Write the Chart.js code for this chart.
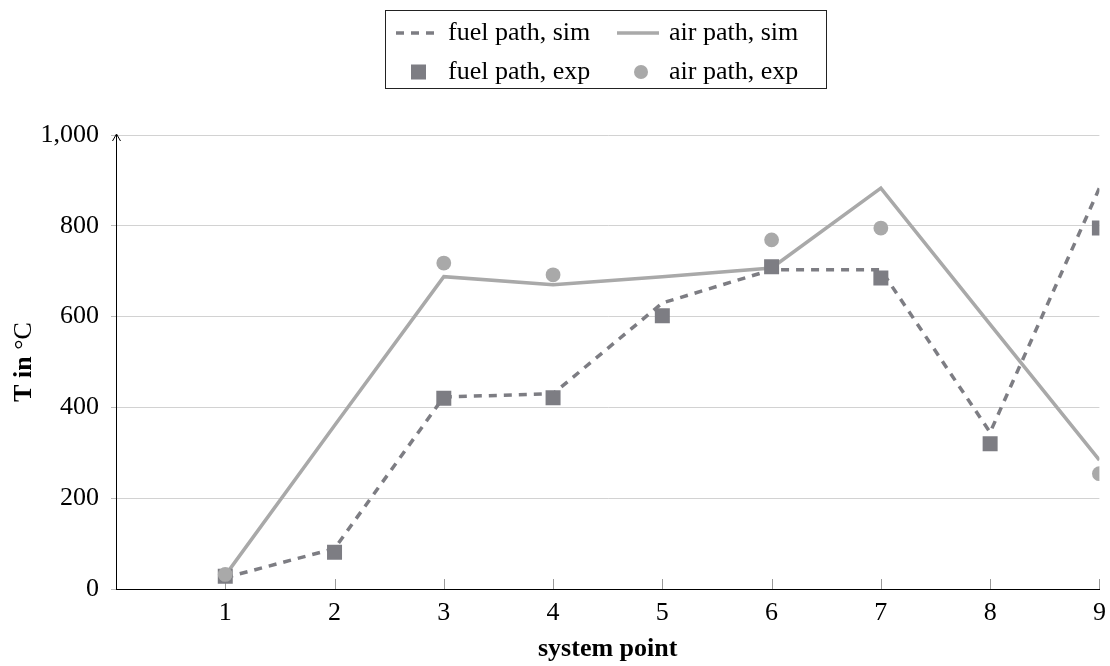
<!DOCTYPE html>
<html>
<head>
<meta charset="utf-8">
<script src="https://cdn.jsdelivr.net/npm/chart.js@4.4.0/dist/chart.umd.min.js"></script>
<style>
  html, body { margin: 0; padding: 0; background: #fff; }
  #wrap { width: 1110px; height: 666px; }
</style>
</head>
<body>
<div id="wrap"><canvas id="chart" width="1110" height="666"></canvas></div>
<script>
const systemPoints = [1, 2, 3, 4, 5, 6, 7, 8, 9];
const fuelSim = [25, 89, 423, 430, 630, 703, 703, 345, 883];
const airSim = [30, 360, 688, 670, 688, 707, 883, 583, 284];
const fuelExp = [28, 81, 420, 421, 602, 710, 685, 320, 795];
const airExp = [32, null, 718, 692, null, 769, 795, null, 254];
const yTicks = [0, 200, 400, 600, 800, 1000];

const fuelColor = "#7d7d83";
const airColor = "#a9a9a9";
const serif = "'Liberation Serif', 'Times New Roman', serif";
const fontPx = 26;

Chart.defaults.font.family = serif;
Chart.defaults.font.size = fontPx;
Chart.defaults.color = "#000";

function pts(values) {
  return systemPoints.map(function (x, i) {
    return { x: x, y: values[i] };
  });
}

// extra drawing: inward x ticks, y arrow, y title, boxed legend
const decor = {
  id: "decor",
  beforeDatasetsDraw(chart) {
    const ctx = chart.ctx;
    const xs = chart.scales.x;
    const a = chart.chartArea;
    ctx.save();
    ctx.strokeStyle = "#9a9a9a";
    ctx.lineWidth = 1;
    systemPoints.forEach(function (p) {
      const px = Math.round(xs.getPixelForValue(p)) + 0.5;
      ctx.beginPath();
      ctx.moveTo(px, a.bottom);
      ctx.lineTo(px, a.bottom - 10);
      ctx.stroke();
    });
    ctx.restore();
  },
  afterDraw(chart) {
    const ctx = chart.ctx;
    const a = chart.chartArea;
    const ds = chart.data.datasets;
    ctx.save();

    // arrow on y axis
    ctx.strokeStyle = "#000";
    ctx.lineWidth = 1;
    ctx.beginPath();
    ctx.moveTo(a.left - 3.5, a.top + 6);
    ctx.lineTo(a.left + 0.5, a.top - 1);
    ctx.lineTo(a.left + 4.5, a.top + 6);
    ctx.stroke();

    // y title: "T in" bold, "°C" regular
    ctx.save();
    ctx.translate(24, (a.top + a.bottom) / 2);
    ctx.rotate(-Math.PI / 2);
    ctx.textBaseline = "middle";
    ctx.fillStyle = "#000";
    const boldFont = "bold " + fontPx + "px " + serif;
    const normFont = fontPx + "px " + serif;
    ctx.font = boldFont;
    const w1 = ctx.measureText("T in ").width;
    ctx.font = normFont;
    const w2 = ctx.measureText("°C").width;
    let sx = -(w1 + w2) / 2;
    ctx.font = boldFont;
    ctx.fillText("T in ", sx, 0);
    ctx.font = normFont;
    ctx.fillText("°C", sx + w1, 0);
    ctx.restore();

    // legend box
    ctx.strokeStyle = "#222";
    ctx.lineWidth = 1;
    ctx.strokeRect(385.5, 10.5, 441, 78);
    const row1 = 33, row2 = 72;
    ctx.font = normFont;
    ctx.fillStyle = "#000";
    ctx.textBaseline = "middle";

    ctx.strokeStyle = ds[0].borderColor;
    ctx.lineWidth = ds[0].borderWidth;
    ctx.setLineDash(ds[0].borderDash);
    ctx.beginPath();
    ctx.moveTo(396, row1);
    ctx.lineTo(436, row1);
    ctx.stroke();
    ctx.setLineDash([]);
    ctx.fillText(ds[0].label, 448, row1);

    ctx.strokeStyle = ds[1].borderColor;
    ctx.lineWidth = ds[1].borderWidth;
    ctx.beginPath();
    ctx.moveTo(617, row1);
    ctx.lineTo(659, row1);
    ctx.stroke();
    ctx.fillText(ds[1].label, 669, row1);

    ctx.fillStyle = ds[2].backgroundColor;
    ctx.fillRect(411, row2 - 7.5, 15, 15);
    ctx.fillStyle = "#000";
    ctx.fillText(ds[2].label, 448, row2);

    ctx.fillStyle = ds[3].backgroundColor;
    ctx.beginPath();
    ctx.arc(641, row2, 7, 0, Math.PI * 2);
    ctx.fill();
    ctx.fillStyle = "#000";
    ctx.fillText(ds[3].label, 669, row2);

    ctx.restore();
  },
};

const data = {
  datasets: [
    {
      label: "fuel path, sim",
      data: pts(fuelSim),
      borderColor: fuelColor,
      borderWidth: 3.5,
      borderDash: [8, 7],
      pointRadius: 0,
      order: 3,
    },
    {
      label: "air path, sim",
      data: pts(airSim),
      borderColor: airColor,
      borderWidth: 3.5,
      pointRadius: 0,
      order: 2,
    },
    {
      label: "fuel path, exp",
      data: pts(fuelExp),
      showLine: false,
      pointStyle: "rect",
      pointRadius: 10.6,
      pointBorderWidth: 0,
      backgroundColor: fuelColor,
      pointBackgroundColor: fuelColor,
      order: 1,
    },
    {
      label: "air path, exp",
      data: pts(airExp),
      showLine: false,
      pointStyle: "circle",
      pointRadius: 7.4,
      pointBorderWidth: 0,
      backgroundColor: airColor,
      pointBackgroundColor: airColor,
      order: 0,
    },
  ],
};

const config = {
  type: "line",
  data: data,
  plugins: [decor],
  options: {
    responsive: false,
    animation: false,
    layout: {
      padding: { top: 135, right: 8, left: 0, bottom: 0 },
    },
    plugins: {
      legend: { display: false },
      tooltip: { enabled: false },
    },
    scales: {
      x: {
        type: "linear",
        min: 0,
        max: 9,
        grid: { display: false },
        border: { display: true, color: "#000", width: 1 },
        ticks: {
          stepSize: 1,
          padding: 1,
          callback: function (value) {
            return value === 0 ? "" : value;
          },
        },
        title: {
          display: true,
          text: "system point",
          font: { weight: "bold" },
          padding: { top: 0, bottom: 1 },
        },
        afterFit: function (scale) {
          scale.height = 77;
        },
      },
      y: {
        min: 0,
        max: 1000,
        grid: { color: "#d2d2d2", tickLength: 5, tickColor: "#bbb" },
        border: { display: true, color: "#000", width: 1 },
        afterBuildTicks: function (scale) {
          scale.ticks = yTicks.map(function (v) {
            return { value: v };
          });
        },
        ticks: {
          padding: 12,
          callback: function (value) {
            return value.toLocaleString("en-US");
          },
        },
        afterFit: function (scale) {
          scale.width = 116;
        },
      },
    },
  },
};

new Chart("chart", config);
</script>
</body>
</html>
